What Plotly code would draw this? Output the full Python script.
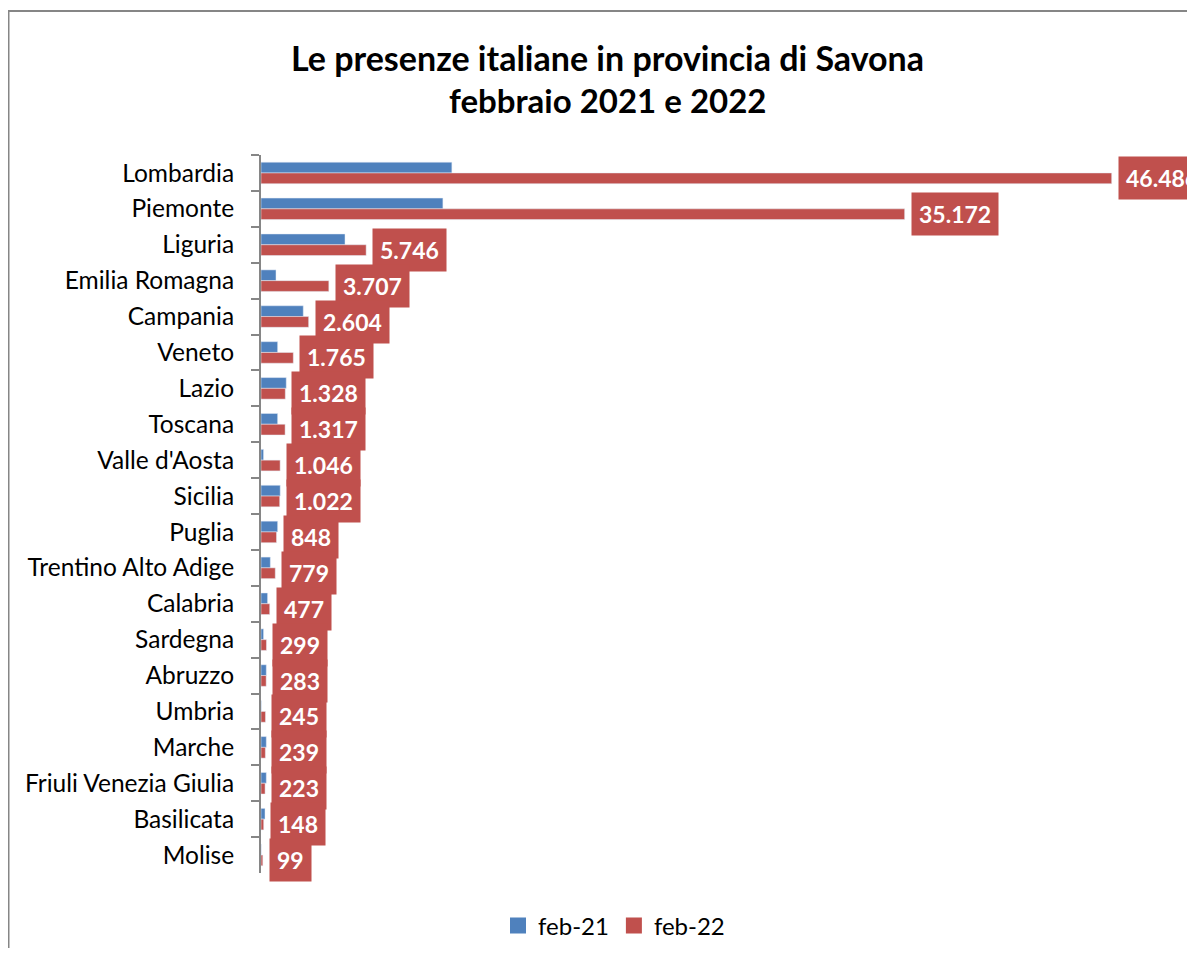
import plotly.graph_objects as go

categories = ["Lombardia", "Piemonte", "Liguria", "Emilia Romagna", "Campania", "Veneto",
              "Lazio", "Toscana", "Valle d'Aosta", "Sicilia", "Puglia", "Trentino Alto Adige",
              "Calabria", "Sardegna", "Abruzzo", "Umbria", "Marche", "Friuli Venezia Giulia",
              "Basilicata", "Molise"]
feb21 = [10430, 9940, 4590, 820, 2310, 910, 1380, 910, 140, 1050, 910, 510, 360, 140, 290,
         15, 290, 290, 220, 10]
feb22 = [46486, 35172, 5746, 3707, 2604, 1765, 1328, 1317, 1046, 1022, 848, 779, 477, 299,
         283, 245, 239, 223, 148, 99]
series_names = ["feb-21", "feb-22"]
title_lines = ["Le presenze italiane in provincia di Savona", "febbraio 2021 e 2022"]

BLUE = "#4F81BD"
RED = "#C0504D"
GRAY = "#868686"
FONT = "Lato"

W, H = 1179, 940
ML, MR, MT, MB = 253, 11, 147, 75
PW = W - ML - MR
PH = H - MT - MB


def px_x(fx):
    return (fx - ML) / PW


def px_y(fy):
    return (H - MB - fy) / PH


def it_fmt(v):
    return f"{v:,}".replace(",", ".")


fig = go.Figure()
fig.add_trace(go.Bar(y=categories, x=feb21, orientation="h", name=series_names[0],
                     marker=dict(color=BLUE), showlegend=False))
fig.add_trace(go.Bar(y=categories, x=feb22, orientation="h", name=series_names[1],
                     marker=dict(color=RED), showlegend=False))
for nm, col in zip(series_names, [BLUE, RED]):
    fig.add_trace(go.Scatter(x=[None], y=[None], mode="markers", name=nm,
                             marker=dict(symbol="square", size=16, color=col,
                                         line=dict(width=0)),
                             showlegend=True))

annotations = []
for c, v in zip(categories, feb22):
    annotations.append(dict(
        x=v, y=c, xref="x", yref="y", text=f"<b>{it_fmt(v)}</b>", showarrow=False,
        xanchor="left", yanchor="middle", xshift=6, yshift=-5,
        bgcolor=RED, borderpad=7, font=dict(family=FONT, size=23, color="white")))

title_sizes = [34, 33]
for i, t in enumerate(title_lines):
    annotations.append(dict(
        x=px_x(599), y=px_y(49 + 43 * i), xref="paper", yref="paper",
        text=f"<b>{t}</b>", showarrow=False, xanchor="center", yanchor="middle",
        font=dict(family=FONT, size=title_sizes[i], color="black")))

fig.update_layout(
    width=W, height=H,
    margin=dict(l=ML, r=MR, t=MT, b=MB, pad=0, autoexpand=False),
    paper_bgcolor="white", plot_bgcolor="white",
    barmode="group", bargap=0.4, bargroupgap=0,
    annotations=annotations,
    showlegend=True,
    legend=dict(orientation="h", x=px_x(606), y=px_y(918), xanchor="center",
                yanchor="middle", font=dict(family=FONT, size=24, color="black"),
                itemwidth=30, tracegroupgap=0, bgcolor="rgba(0,0,0,0)",
                itemsizing="trace"),
    font=dict(family=FONT, color="black"),
    shapes=[
        dict(type="line", xref="paper", yref="paper",
             x0=px_x(0), y0=px_y(3), x1=px_x(W), y1=px_y(3),
             line=dict(color=GRAY, width=2), layer="below"),
        dict(type="line", xref="paper", yref="paper",
             x0=px_x(0), y0=px_y(3), x1=px_x(0), y1=px_y(H),
             line=dict(color=GRAY, width=3), layer="below"),
    ],
)
fig.update_xaxes(range=[0, 50000], showgrid=False, showticklabels=False, zeroline=False,
                 showline=False, ticks="", automargin=False)
fig.update_yaxes(range=[19.5, -0.5], showline=True, linecolor=GRAY, linewidth=2,
                 ticks="outside", tickson="boundaries", ticklen=8, tickwidth=2,
                 tickcolor=GRAY, showgrid=False, ticklabelstandoff=20, automargin=False,
                 tickfont=dict(family=FONT, size=24.5, color="black"))

fig.write_html("out.html")
